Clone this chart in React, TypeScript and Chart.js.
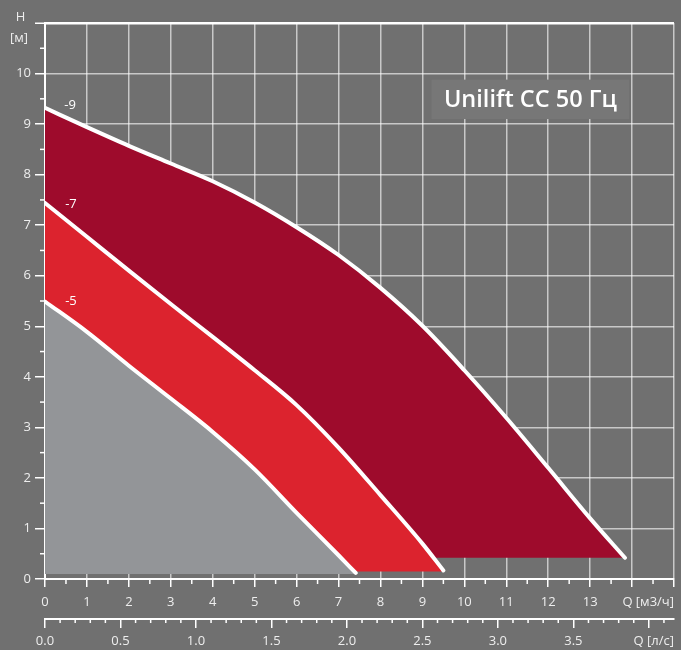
import { useEffect, useRef } from "react";
import { Chart, registerables } from "chart.js";

Chart.register(...registerables);

// Curve -9 (max speed)
const flow9 = [0, 1, 2, 3, 4, 5, 6, 7, 8, 9, 10, 11, 12, 13, 13.83];
const head9 = [9.32, 8.94, 8.57, 8.22, 7.87, 7.45, 6.96, 6.41, 5.76, 5.01, 4.13, 3.19, 2.2, 1.2, 0.42];
// Curve -7
const flow7 = [0, 1, 2, 3, 4, 5, 6, 7, 8, 9, 9.5];
const head7 = [7.44, 6.77, 6.1, 5.44, 4.79, 4.13, 3.44, 2.6, 1.66, 0.7, 0.17];
// Curve -5
const flow5 = [0, 1, 2, 3, 4, 5, 6, 7, 7.41];
const head5 = [5.49, 4.89, 4.22, 3.57, 2.91, 2.17, 1.31, 0.47, 0.12];

// lower floors of the filled regions
const floors = [0.1, 0.15, 0.42];
const curveNames = ["-5", "-7", "-9"];
const curveLabelQ = [0.62, 0.62, 0.6];
const curveLabelH = [5.49, 7.41, 9.37];

const qTickLabels = ["0", "1", "2", "3", "4", "5", "6", "7", "8", "9", "10", "11", "12", "13"];
const lsTickLabels = ["0.0", "0.5", "1.0", "1.5", "2.0", "2.5", "3.0", "3.5"];
const hTickLabels = ["0", "1", "2", "3", "4", "5", "6", "7", "8", "9", "10"];

const title = "Unilift CC 50 Гц";
const xUnit = "Q [м3/ч]";
const x2Unit = "Q [л/с]";
const yUnit1 = "H";
const yUnit2 = "[м]";

const BG = "#707070";
const GRID = "rgba(255,255,255,0.62)";
const TXT = "#eeeeee";
const FONT = "'Open Sans', 'DejaVu Sans', sans-serif";

const decorPlugin = {
  id: "decor",
  beforeDraw(chart: any) {
    const c = chart.ctx;
    c.save();
    c.fillStyle = BG;
    c.fillRect(0, 0, chart.width, chart.height);
    c.restore();
  },
  afterDraw(chart: any) {
    const c = chart.ctx;
    const x = chart.scales.x;
    const y = chart.scales.y;
    const x2 = chart.scales.x2;
    c.save();
    c.strokeStyle = "#ffffff";
    c.lineWidth = 1.5;
    const seg = (a: number, b: number, d: number, e: number) => {
      c.beginPath();
      c.moveTo(a, b);
      c.lineTo(d, e);
      c.stroke();
    };
    for (let v = 0.5; v < 15; v += 1) {
      const px = x.getPixelForValue(v);
      seg(px, x.top, px, x.top + 5);
    }
    for (let v = 0.5; v < 11; v += 1) {
      const py = y.getPixelForValue(v);
      seg(y.right - 5, py, y.right, py);
    }
    for (let i = 1; i <= 41; i++) {
      if (i % 5 === 0) continue;
      const px = x2.getPixelForValue(i / 10);
      seg(px, x2.top, px, x2.top + 4);
    }

    // curve labels
    c.fillStyle = "#ffffff";
    c.font = `13px ${FONT}`;
    c.textAlign = "center";
    c.textBaseline = "middle";
    curveNames.forEach((n, i) => {
      c.fillText(n, x.getPixelForValue(curveLabelQ[i]), y.getPixelForValue(curveLabelH[i]));
    });

    // axis unit labels
    c.fillStyle = TXT;
    c.font = `13px ${FONT}`;
    c.textAlign = "center";
    c.fillText(yUnit1, 20.5, 17);
    c.fillText(yUnit2, 19, 38);
    c.textAlign = "right";
    c.fillText(xUnit, x.right, 602);
    c.fillText(x2Unit, x2.right, 641);

    // title box
    const bl = x.getPixelForValue(9.22);
    const br = x.getPixelForValue(13.93);
    const bt = y.getPixelForValue(9.88);
    const bb = y.getPixelForValue(9.1);
    c.fillStyle = "#777777";
    c.fillRect(bl, bt, br - bl, bb - bt);
    c.fillStyle = "#ffffff";
    c.font = `600 23.5px ${FONT}`;
    c.textAlign = "center";
    c.textBaseline = "middle";
    c.fillText(title, (bl + br) / 2, (bt + bb) / 2 + 1);
    c.restore();
  },
};

export default function App() {
  const ref = useRef<HTMLCanvasElement | null>(null);
  useEffect(() => {
    if (!ref.current) return;
    const mk = (qs: number[], hs: number[]) => qs.map((q, i) => ({ x: q, y: hs[i] }));
    const fills = ["#939598", "#dc232e", "#9e0b2c"];
    const curves = [mk(flow5, head5), mk(flow7, head7), mk(flow9, head9)];
    const chart = new Chart(ref.current, {
      type: "line",
      data: {
        datasets: curves.map((d, i) => ({
          label: curveNames[i],
          data: d,
          borderColor: "#ffffff",
          borderWidth: 4,
          borderCapStyle: "round",
          backgroundColor: fills[i],
          fill: { value: floors[i] },
          pointRadius: 0,
          cubicInterpolationMode: "monotone",
          xAxisID: "x",
          yAxisID: "y",
        })),
      } as any,
      options: {
        animation: false,
        responsive: false,
        events: [],
        layout: { padding: { top: 23, right: 4, left: 0, bottom: 0 } },
        plugins: { legend: { display: false }, tooltip: { enabled: false } },
        scales: {
          x: {
            type: "linear",
            position: "bottom",
            min: 0,
            max: 15,
            z: 1,
            afterFit: (s: any) => {
              s.height = 40;
            },
            ticks: {
              stepSize: 1,
              autoSkip: false,
              maxRotation: 0,
              padding: 7,
              color: TXT,
              font: { family: FONT, size: 13 },
              callback: (v: any) => (qTickLabels[v] !== undefined ? qTickLabels[v] : ""),
            },
            grid: {
              color: GRID,
              lineWidth: 1.5,
              tickLength: 8,
              tickColor: "#ffffff",
              tickWidth: 1.5,
            },
            border: { color: "#ffffff", width: 2 },
          },
          x2: {
            type: "linear",
            position: "bottom",
            min: 0,
            max: 15 / 3.6,
            z: 1,
            afterFit: (s: any) => {
              s.height = 31;
            },
            ticks: {
              stepSize: 0.5,
              includeBounds: false,
              autoSkip: false,
              maxRotation: 0,
              padding: 5,
              color: TXT,
              font: { family: FONT, size: 13 },
              callback: (v: any) => {
                const k = Math.round(Number(v) * 2);
                return lsTickLabels[k] !== undefined ? lsTickLabels[k] : "";
              },
            },
            grid: {
              drawOnChartArea: false,
              color: "#ffffff",
              lineWidth: 1.5,
              tickLength: 9,
            },
            border: { color: "#ffffff", width: 2 },
          },
          y: {
            type: "linear",
            position: "left",
            min: 0,
            max: 11,
            z: 1,
            afterFit: (s: any) => {
              s.width = 45;
            },
            ticks: {
              stepSize: 1,
              autoSkip: false,
              padding: 4,
              color: TXT,
              font: { family: FONT, size: 13 },
              callback: (v: any) => (hTickLabels[v] !== undefined ? hTickLabels[v] : ""),
            },
            grid: {
              color: (ctx: any) => (ctx.tick && ctx.tick.value === 11 ? "#ffffff" : GRID),
              lineWidth: (ctx: any) => (ctx.tick && ctx.tick.value === 11 ? 2.5 : 1.5),
              tickLength: 10,
              tickColor: "#ffffff",
              tickWidth: 1.5,
            },
            border: { color: "#ffffff", width: 2 },
          },
        },
      } as any,
      plugins: [decorPlugin],
    });
    return () => chart.destroy();
  }, []);
  return (
    <div style={{ position: "absolute", left: 0, top: 0, width: 681, height: 650, background: BG }}>
      <canvas ref={ref} width={681} height={650} style={{ display: "block" }} />
    </div>
  );
}
